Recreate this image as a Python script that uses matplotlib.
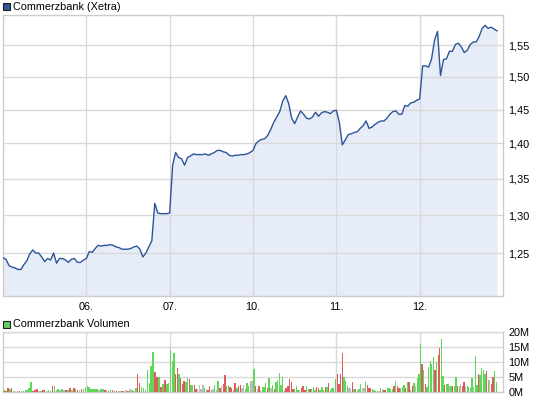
import numpy as np
import matplotlib
matplotlib.use("Agg")
import matplotlib.pyplot as plt
from matplotlib.patches import Rectangle
from matplotlib.ticker import FixedLocator, NullLocator, FuncFormatter

plt.rcParams["font.family"] = ["Liberation Sans", "DejaVu Sans"]

W, H = 545, 401

# Kurs Commerzbank (Xetra), 28 Werte je Handelstag, Start 05.
steps_per_day = 28
day_labels = ["06.", "07.", "10.", "11.", "12."]

price_05 = [1.244, 1.242, 1.234, 1.232, 1.231, 1.229, 1.229, 1.235, 1.240, 1.249,
            1.254, 1.250, 1.250, 1.245, 1.239, 1.243, 1.241, 1.250, 1.237, 1.243,
            1.243, 1.241, 1.238, 1.242, 1.243, 1.238, 1.238, 1.241]
price_06 = [1.243, 1.252, 1.251, 1.256, 1.260, 1.259, 1.260, 1.260, 1.261, 1.260,
            1.258, 1.257, 1.255, 1.255, 1.255, 1.256, 1.258, 1.259, 1.255, 1.245,
            1.250, 1.258, 1.266, 1.316, 1.303, 1.302, 1.302, 1.302]
price_07 = [1.303, 1.369, 1.387, 1.380, 1.378, 1.369, 1.380, 1.382, 1.385, 1.384,
            1.384, 1.384, 1.385, 1.383, 1.385, 1.387, 1.390, 1.390, 1.388, 1.387,
            1.383, 1.382, 1.383, 1.383, 1.384, 1.384, 1.385, 1.387]
price_10 = [1.390, 1.400, 1.404, 1.406, 1.407, 1.412, 1.421, 1.431, 1.439, 1.447,
            1.463, 1.471, 1.459, 1.437, 1.429, 1.439, 1.448, 1.443, 1.437, 1.436,
            1.439, 1.446, 1.440, 1.445, 1.447, 1.446, 1.444, 1.448]
price_11 = [1.449, 1.431, 1.398, 1.405, 1.413, 1.414, 1.416, 1.417, 1.422, 1.426,
            1.433, 1.422, 1.424, 1.428, 1.431, 1.433, 1.433, 1.437, 1.443, 1.447,
            1.448, 1.443, 1.443, 1.456, 1.455, 1.460, 1.461, 1.464]
price_12 = [1.466, 1.517, 1.517, 1.515, 1.528, 1.558, 1.572, 1.502, 1.527, 1.528,
            1.540, 1.540, 1.551, 1.553, 1.547, 1.538, 1.542, 1.551, 1.555, 1.555,
            1.564, 1.577, 1.582, 1.577, 1.579, 1.576, 1.573]
price = price_05 + price_06 + price_07 + price_10 + price_11 + price_12

price_ticks = [1.25, 1.30, 1.35, 1.40, 1.45, 1.50, 1.55]
price_range = (1.1957, 1.599)

# Volumen in Mio. Stueck, Farbe: g = steigend, r = fallend, n = unveraendert
vol_05 = [0.6, 0.3, 1.3, 1.0, 1.3, 0.5, 0.3, 0.3, 0.2, 0.3, 0.3, 0.6, 0.7, 1.3, 3.3,
          0.3, 0.7, 1.0, 0.3, 0.2, 0.6, 0.6, 0.3, 0.6, 0.3, 1.9, 1.9, 0.6, 0.9, 0.6,
          1.0, 0.6, 0.6, 0.7, 1.3, 0.6, 1.5, 1.0, 0.7, 0.7, 1.0, 1.0, 1.3]
col_05 = "grrgrgnnrngggggrrrngrrgggrgngngnrgrnrgrnrgg"
vol_06 = [2.0, 1.7, 1.0, 1.0, 1.0, 1.0, 0.7, 1.0, 1.0, 0.6, 0.6, 0.3, 0.6, 0.6, 0.3,
          0.3, 0.3, 0.3, 0.3, 0.2, 0.6, 0.3, 1.0, 0.6, 0.3, 1.3, 6.0, 2.9, 1.8, 1.5,
          0.7, 7.3, 2.9, 8.7, 13.4, 6.7, 4.9, 4.9, 1.7, 2.7, 4.0, 2.7, 3.0]
col_06 = "ggggggnggrnrgrrrgnrnnrngng" + "rrgggggggrrgrgrgg"
vol_07 = [14.0, 10.3, 13.0, 6.0, 8.0, 6.0, 4.7, 2.7, 3.8, 3.3, 4.7, 4.2, 2.2, 2.2, 2.2,
          1.1, 0.9, 2.2, 0.9, 2.2, 1.4, 0.9, 0.7, 2.0, 0.7, 1.1, 2.4, 0.7, 3.7, 1.3,
          2.0, 2.7, 5.7, 2.0, 2.2, 1.7, 1.5, 0.7, 2.9, 1.5, 2.0, 2.4, 1.4, 2.2, 0.9,
          2.9, 2.0, 3.7, 3.7]
col_07 = "gggrrgrrrggrggrrnnnngnrrgngngrnrrggrrnrgrrnngggnn"
vol_10 = [7.8, 2.0, 1.1, 2.0, 0.7, 1.7, 1.7, 2.9, 1.3, 4.7,
          1.4, 2.3, 1.0, 3.4, 4.0, 6.3, 2.3, 5.0, 0.7, 1.2, 2.0, 4.3, 3.3, 0.9, 1.0,
          2.0, 0.7, 0.7, 1.3, 2.0, 0.7, 2.0, 0.9, 0.9, 0.9, 1.7, 0.7, 1.7, 1.3, 0.7,
          1.7, 0.7, 1.7, 1.7, 3.0, 0.7, 1.3, 1.3, 4.3]
col_10 = "grnrngggrg" + "ngrgggggnrrrrrgggnrrrggrgggrrgggrgrgggg"
vol_11 = [6.0, 2.7, 6.0, 13.0, 5.0, 3.7, 2.0, 1.3, 1.3, 3.3, 1.0, 1.0, 0.7, 1.0, 2.7,
          1.3, 1.3, 3.3, 2.3, 1.3, 1.3, 1.0, 0.7, 0.3, 0.3, 0.3, 1.3, 1.0, 0.7, 0.7,
          1.3, 1.3, 1.0, 1.0, 2.0, 3.7, 2.0, 1.3, 1.3, 1.7, 2.3, 1.3, 3.3, 3.3,
          0.7, 2.0, 2.9, 2.0, 4.7, 6.1]
col_11 = "rrrrgggnnrgrnggnngrrrgggnngnrrggggrgrrgggrgr" + "grgngg"
vol_12 = [16.0, 9.3, 7.3, 2.7, 1.8, 8.2, 10.3, 9.3, 11.7, 7.3, 10.0, 12.5, 14.7, 17.7,
          5.4, 2.3, 2.7, 2.7, 2.0, 2.0, 2.0, 2.0, 4.9, 2.0, 2.0, 2.7, 2.0, 3.3, 2.0,
          2.0, 1.7, 1.3, 4.6, 1.8, 12.1, 2.3, 6.0, 5.7, 8.1, 7.4, 6.1, 7.1, 4.0, 4.0,
          2.7, 4.9, 6.9, 3.3]
col_12 = "grgrgggggrgrrggrggngrggrgnrrnggggnggrggggrgnrrgg"

vol_days = [vol_05, vol_06, vol_07, vol_10, vol_11, vol_12]
col_days = [col_05, col_06, col_07, col_10, col_11, col_12]
vol_ticks = [0, 5, 10, 15, 20]

line_col = "#2b5597"
fill_col = "#e6ecf8"
grid_col = "#d9d9d9"
bar_cols = {"g": "#5fd85a", "r": "#e05c5c", "n": "#bbbbbb"}


def px_rect(x0, y0, x1, y1):
    # Pixel (oben links) -> Figure-Koordinaten
    return [x0 / W, 1 - y1 / H, (x1 - x0) / W, (y1 - y0) / H]


def style_axes(ax):
    for s in ax.spines.values():
        s.set_color("#cccccc")
        s.set_linewidth(1.0)
    ax.set_axisbelow(False)
    ax.grid(True, color=grid_col, lw=1.0)
    ax.yaxis.tick_right()
    ax.tick_params(length=0, labelsize=7.8, pad=4, colors="black")


def main():
    fig = plt.figure(figsize=(W / 100, H / 100), dpi=100)

    # Kurs
    ax = fig.add_axes(px_rect(3, 15, 503, 296))
    t = np.arange(len(price)) / steps_per_day
    ax.fill_between(t, price, price_range[0], color=fill_col, lw=0, zorder=1)
    ax.plot(t, price, color=line_col, lw=1.0, zorder=3)
    ax.set_yscale("log")
    ax.set_ylim(*price_range)
    ax.set_xlim(0, 6.0)
    ax.yaxis.set_major_locator(FixedLocator(price_ticks))
    ax.yaxis.set_minor_locator(NullLocator())
    ax.yaxis.set_major_formatter(FuncFormatter(lambda v, p: f"{v:.2f}".replace(".", ",")))
    ax.set_xticks(np.arange(1, len(day_labels) + 1))
    ax.set_xticklabels(day_labels)
    style_axes(ax)

    # Volumen
    av = fig.add_axes(px_rect(3, 332, 503, 392))
    t_end = t[-1]
    for k, (vals, cols) in enumerate(zip(vol_days, col_days)):
        span = 1.0 if k < len(vol_days) - 1 else t_end - k
        n = len(vals)
        xs = k + (np.arange(n) + 0.5) * span / n
        av.bar(xs, vals, width=0.8 * span / n, color=[bar_cols[c] for c in cols],
               lw=0, zorder=3, antialiased=False)
    av.set_xlim(0, 6.0)
    av.set_ylim(0, 20)
    av.set_yticks(vol_ticks)
    av.set_yticklabels([f"{v}M" for v in vol_ticks])
    av.set_xticks(np.arange(1, len(day_labels) + 1))
    av.set_xticklabels([])
    style_axes(av)

    # Legenden
    fig.add_artist(Rectangle((3 / W, 1 - 10 / H), 6.5 / W, 6.5 / H, transform=fig.transFigure,
                             facecolor="#2f5597", edgecolor="#222222", lw=0.8))
    fig.text(13 / W, 1 - 6.5 / H, "Commerzbank (Xetra)", fontsize=7.8, va="center")
    fig.add_artist(Rectangle((3 / W, 1 - 327.5 / H), 6.5 / W, 6.5 / H, transform=fig.transFigure,
                             facecolor="#66cc66", edgecolor="#222222", lw=0.8))
    fig.text(13 / W, 1 - 324 / H, "Commerzbank Volumen", fontsize=7.8, va="center")

    fig.savefig("out.png", dpi=100)


if __name__ == "__main__":
    main()
